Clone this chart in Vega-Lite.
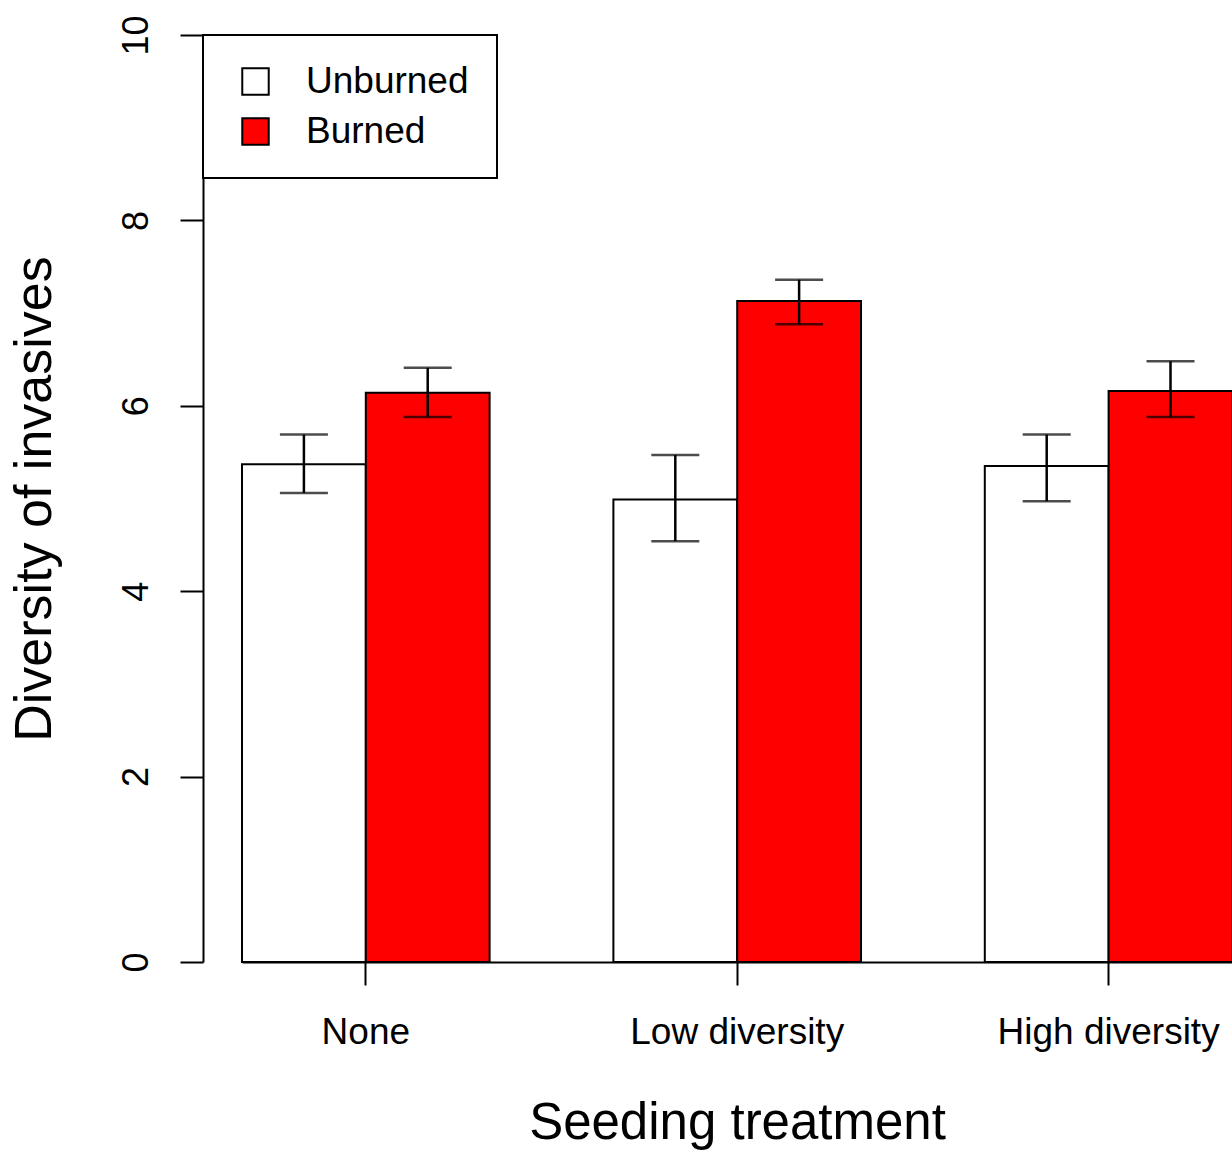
{
  "$schema": "https://vega.github.io/schema/vega-lite/v6.json",
  "autosize": {"type": "none"},
  "padding": {"left": 203, "top": 35, "right": 0, "bottom": 193},
  "width": 1029,
  "height": 927,
  "background": "white",
  "config": {
    "font": "Liberation Sans",
    "view": {"stroke": null},
    "axis": {"grid": false, "domainColor": "black", "domainWidth": 2, "tickColor": "black", "tickWidth": 2, "labelColor": "black", "titleColor": "black", "titleFontWeight": "normal", "labelFont": "Liberation Sans", "titleFont": "Liberation Sans", "labelLimit": 0}
  },
  "data": {"values": [
    {"group": "None", "burn": "Unburned", "mean": 5.37, "lo": 5.06, "hi": 5.69},
    {"group": "None", "burn": "Burned", "mean": 6.14, "lo": 5.88, "hi": 6.41},
    {"group": "Low diversity", "burn": "Unburned", "mean": 4.99, "lo": 4.54, "hi": 5.47},
    {"group": "Low diversity", "burn": "Burned", "mean": 7.13, "lo": 6.88, "hi": 7.36},
    {"group": "High diversity", "burn": "Unburned", "mean": 5.35, "lo": 4.97, "hi": 5.69},
    {"group": "High diversity", "burn": "Burned", "mean": 6.16, "lo": 5.88, "hi": 6.48}
  ]},
  "encoding": {
    "x": {
      "field": "group", "type": "nominal",
      "scale": {"type": "band", "domain": ["None", "Low diversity", "High diversity"], "range": [39, 1069], "paddingInner": 0.3333, "paddingOuter": 0.0533, "align": 0},
      "axis": {"title": "Seeding treatment", "labelAngle": 0, "labelFontSize": 37, "labelLimit": 0, "tickSize": 23, "labelPadding": 29, "titleFontSize": 51, "titlePadding": 48, "titleX": 534}
    },
    "xOffset": {"field": "burn", "type": "nominal", "scale": {"domain": ["Unburned", "Burned"], "paddingInner": 0, "paddingOuter": 0}}
  },
  "layer": [
    {
      "mark": {"type": "bar", "stroke": "black", "strokeWidth": 2},
      "encoding": {
        "y": {"field": "mean", "type": "quantitative",
          "scale": {"domain": [0, 10], "nice": false},
          "axis": {"title": "Diversity of invasives", "values": [0, 2, 4, 6, 8, 10], "format": "d", "tickSize": 23, "labelFontSize": 36, "labelAngle": -90, "labelAlign": "center", "labelBaseline": "alphabetic", "labelPadding": 33, "titleFontSize": 52, "titleBaseline": "alphabetic", "titlePadding": 68}},
        "fill": {"field": "burn", "type": "nominal",
          "scale": {"domain": ["Unburned", "Burned"], "range": ["white", "#ff0000"]},
          "legend": {"title": null, "orient": "top-left", "offset": 0, "strokeColor": "black", "fillColor": "white", "padding": 28, "symbolType": "square", "symbolSize": 700, "symbolStrokeColor": "black", "symbolStrokeWidth": 2, "labelFontSize": 37, "labelColor": "black", "labelLimit": 0, "labelOffset": 32, "rowPadding": 12, "symbolOffset": 6,
            "encode": {"legend": {"update": {"strokeWidth": {"value": 2}}}}}}
      }
    },
    {
      "mark": {"type": "rule", "color": "black", "strokeWidth": 2.5},
      "encoding": {"y": {"field": "lo", "type": "quantitative"}, "y2": {"field": "hi"}}
    },
    {
      "mark": {"type": "tick", "color": "black", "thickness": 2.5, "size": 48, "orient": "horizontal"},
      "encoding": {"y": {"field": "lo", "type": "quantitative"}}
    },
    {
      "mark": {"type": "tick", "color": "black", "thickness": 2.5, "size": 48, "orient": "horizontal"},
      "encoding": {"y": {"field": "hi", "type": "quantitative"}}
    }
  ]
}
